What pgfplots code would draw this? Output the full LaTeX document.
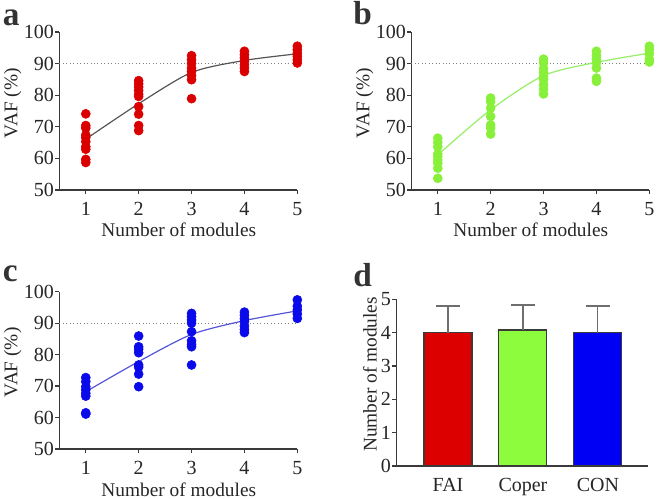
\documentclass[border=0pt]{standalone}
\usepackage{fontspec}
\setmainfont{Liberation Serif}
\usepackage{pgfplots}
\pgfplotsset{compat=1.18}

\definecolor{axisgray}{RGB}{58,58,58}
\definecolor{errgray}{RGB}{110,110,110}
\definecolor{ptred}{RGB}{218,0,0}
\definecolor{ptgreen}{RGB}{136,240,58}
\definecolor{ptblue}{RGB}{10,10,235}
\definecolor{lnred}{RGB}{85,85,85}
\definecolor{lngreen}{RGB}{150,238,100}
\definecolor{lnblue}{RGB}{85,85,215}
\definecolor{barred}{RGB}{221,0,0}
\definecolor{bargreen}{RGB}{140,252,60}
\definecolor{barblue}{RGB}{0,0,245}

\pgfplotsset{
  prism/.style={
    scale only axis,
    axis lines*=left,
    axis line style={axisgray, line width=1pt, -},
    tick style={axisgray, line width=0.9pt},
    tick align=outside,
    major tick length=3pt,
    tick pos=left,
    clip=false,
    font=\fontsize{14.5}{17}\selectfont,
    /pgf/number format/assume math mode=true,
    tick label style={font=\fontsize{15}{17}\selectfont, text=black!85},
    xticklabel style={yshift=-2.5pt},
    yticklabel style={xshift=2.5pt},
    label style={text=black!85},
  },
  vaf/.style={
    prism,
    width=178.5pt, height=118.5pt,
    xmin=0.5, xmax=5, ymin=50, ymax=100,
    xtick={1,2,3,4,5}, ytick={50,60,70,80,90,100},
    xlabel={Number of modules}, ylabel={VAF (\%)},
    xlabel style={at={(axis description cs:0.502,-0.297)}, anchor=base},
    ylabel style={at={(axis description cs:-0.176,0.55)}, anchor=base},
  },
  dots/.style={only marks, mark=*, mark size=3.4pt, mark options={draw=#1, fill=#1}},
  meanline/.style={#1, line width=0.9pt, smooth, tension=0.45, mark=none},
  cutoff/.style={gray, dotted, line width=0.6pt},
}

\begin{document}
\begin{tikzpicture}
\useasboundingbox (0,0) rectangle (493.5pt,374.25pt);

% (a) FAI
\begin{axis}[vaf, at={(44.5pt,231.75pt)}, anchor=south west]
\addplot[cutoff] coordinates {(0.5,90) (5,90)};
\addplot[meanline=lnred] coordinates {(1,66.1) (2,77.3) (3,87.2) (4,91.0) (5,93.1)};
\addplot[dots=ptred] coordinates {
 (1,74.1) (1,70.4) (1,69.6) (1,67.4) (1,66.6) (1,65.3) (1,63.7) (1,62.9) (1,59.7) (1,58.7)
 (2,84.6) (2,83.6) (2,82.6) (2,81.5) (2,80.3) (2,79.6) (2,76.4) (2,74.0) (2,70.4) (2,68.8)
 (3,92.5) (3,91.2) (3,90.0) (3,88.6) (3,87.5) (3,86.2) (3,84.9) (3,78.9)
 (4,93.9) (4,92.8) (4,91.8) (4,90.7) (4,89.6) (4,88.6) (4,87.5)
 (5,95.5) (5,94.4) (5,93.3) (5,92.3) (5,91.2) (5,90.2)};
\end{axis}

% (b) Coper
\begin{axis}[vaf, at={(308.5pt,231.75pt)}, anchor=south west]
\addplot[cutoff] coordinates {(0.5,90) (5,90)};
\addplot[meanline=lngreen] coordinates {(1,61.1) (2,75.4) (3,86.2) (4,90.4) (5,93.3)};
\addplot[dots=ptgreen] coordinates {
 (1,66.4) (1,65.0) (1,63.7) (1,61.4) (1,60.6) (1,59.5) (1,58.5) (1,56.9) (1,53.7)
 (2,79.1) (2,78.0) (2,75.9) (2,73.3) (2,70.6) (2,69.6) (2,67.7)
 (3,91.4) (3,90.2) (3,88.4) (3,87.2) (3,85.9) (3,84.9) (3,83.3) (3,81.9) (3,80.4)
 (4,93.9) (4,92.6) (4,91.4) (4,90.2) (4,88.6) (4,85.4) (4,84.4)
 (5,95.5) (5,94.4) (5,93.1) (5,91.4) (5,90.5)};
\end{axis}

% (c) CON
\begin{axis}[vaf, height=118pt, at={(44.5pt,37.5pt)}, anchor=south west,
  xlabel style={at={(axis description cs:0.502,-0.299)}, anchor=base}]
\addplot[cutoff] coordinates {(0.5,90) (5,90)};
\addplot[meanline=lnblue] coordinates {(1,68.2) (2,77.8) (3,86.4) (4,90.8) (5,93.9)};
\addplot[dots=ptblue] coordinates {
 (1,72.7) (1,71.4) (1,69.8) (1,68.8) (1,67.7) (1,66.8) (1,61.5) (1,61.1)
 (2,85.9) (2,82.5) (2,81.7) (2,80.6) (2,76.7) (2,76.0) (2,73.8) (2,69.8)
 (3,93.1) (3,92.1) (3,91.0) (3,90.0) (3,87.3) (3,84.4) (3,83.3) (3,82.5) (3,76.7)
 (4,93.5) (4,92.5) (4,91.4) (4,90.5) (4,89.1) (4,88.0) (4,87.0)
 (5,97.4) (5,95.4) (5,94.2) (5,92.9) (5,91.5)};
\end{axis}

% (d) number of modules per group
\begin{axis}[prism, width=188.8pt, height=125pt,
  at={(297.25pt,24.75pt)}, anchor=south west,
  xmin=-0.69, xmax=2.67, ymin=0, ymax=5,
  xtick={0,1,2}, xticklabels={FAI,Coper,CON},
  x tick style={draw=none},
  ytick={0,1,2,3,4,5},
  ylabel={Number of modules},
  ylabel style={at={(axis description cs:-0.078,0.549)}, anchor=base},
  ybar, bar width=36pt, bar shift=0pt]
\addplot[fill=barred, draw=axisgray, line width=0.8pt,
  error bars/.cd, y dir=plus, y explicit,
  error bar style={errgray, line width=0.9pt},
  error mark options={rotate=90, mark size=9pt, errgray, line width=0.9pt}]
  coordinates {(0,4.0) +- (0,0.80)};
\addplot[fill=bargreen, draw=axisgray, line width=0.8pt,
  error bars/.cd, y dir=plus, y explicit,
  error bar style={errgray, line width=0.9pt},
  error mark options={rotate=90, mark size=9pt, errgray, line width=0.9pt}]
  coordinates {(1,4.08) +- (0,0.75)};
\addplot[fill=barblue, draw=axisgray, line width=0.8pt,
  error bars/.cd, y dir=plus, y explicit,
  error bar style={errgray, line width=0.9pt},
  error mark options={rotate=90, mark size=9pt, errgray, line width=0.9pt}]
  coordinates {(2,4.0) +- (0,0.80)};
\end{axis}

% panel letters
\begin{scope}[font=\fontsize{25}{28}\selectfont\bfseries, text=black!80]
\node[anchor=base west, inner sep=0pt] at (2pt,354.75pt) {a};
\node[anchor=base west, inner sep=0pt] at (264.75pt,355.5pt) {b};
\node[anchor=base west, inner sep=0pt] at (2pt,162.75pt) {c};
\node[anchor=base west, inner sep=0pt] at (264.75pt,159pt) {d};
\end{scope}
\end{tikzpicture}
\end{document}
